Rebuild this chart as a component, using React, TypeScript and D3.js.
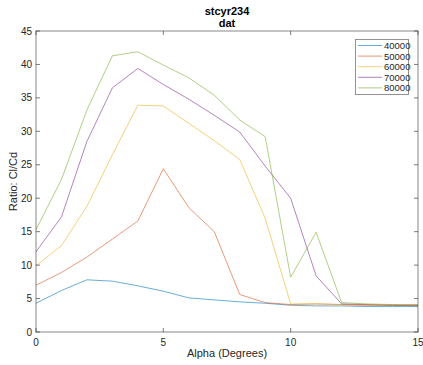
import React from "react";
import * as d3 from "d3";

const alpha = [0, 1, 2, 3, 4, 5, 6, 7, 8, 9, 10, 11, 12, 13, 14, 15];
const seriesNames = ["40000", "50000", "60000", "70000", "80000"];
const s40000 = [4.3, 6.2, 7.8, 7.6, 6.9, 6.1, 5.1, 4.8, 4.5, 4.3, 4.0, 3.9, 3.9, 3.8, 3.8, 3.8];
const s50000 = [7.0, 8.9, 11.2, 13.9, 16.6, 24.4, 18.6, 15.0, 5.6, 4.4, 4.1, 4.2, 4.1, 4.0, 4.0, 3.9];
const s60000 = [9.9, 12.9, 18.8, 26.5, 33.9, 33.8, 31.2, 28.6, 25.8, 17.0, 4.2, 4.2, 4.1, 4.0, 4.0, 4.0];
const s70000 = [12.0, 17.2, 28.5, 36.5, 39.4, 37.0, 34.8, 32.4, 29.9, 24.8, 20.0, 8.4, 4.2, 4.1, 4.0, 4.0];
const s80000 = [15.3, 22.8, 33.2, 41.3, 41.9, 39.9, 38.0, 35.4, 31.7, 29.2, 8.2, 14.9, 4.4, 4.2, 4.1, 4.1];
const seriesValues = [s40000, s50000, s60000, s70000, s80000];
const colors = ["#0072BD", "#D95319", "#EDB120", "#7E2F8E", "#77AC30"];
const xTicks = [0, 5, 10, 15];
const yTicks = [0, 5, 10, 15, 20, 25, 30, 35, 40, 45];

export default function App() {
  const width = 423;
  const height = 365;
  const left = 36, right = 418, top = 31, bottom = 332;

  const x = d3.scaleLinear().domain([0, 15]).range([left, right]);
  const y = d3.scaleLinear().domain([0, 45]).range([bottom, top]);
  const line = d3.line<number>().x((_, i) => x(alpha[i])).y(d => y(d));

  const font = "'Liberation Sans', Arial, Helvetica, sans-serif";
  const axisColor = "#262626";

  return (
    <svg
      width={width}
      height={height}
      style={{ position: "absolute", left: 0, top: 0, background: "#fff" }}
      fontFamily={font}
    >
      <rect x={0} y={0} width={width} height={height} fill="#fff" />
      {/* series */}
      <g>
        {seriesValues.map((vals, k) => (
          <path key={k} d={line(vals) || ""} fill="none" stroke={colors[k]}
            strokeWidth={0.9} strokeOpacity={0.65} />
        ))}
      </g>
      {/* box */}
      <rect x={left} y={top} width={right - left} height={bottom - top}
        fill="none" stroke={axisColor} strokeOpacity={0.55} strokeWidth={1} />
      {/* x ticks */}
      {xTicks.map(t => (
        <g key={"x" + t}>
          <line x1={x(t)} x2={x(t)} y1={bottom} y2={bottom - 4} stroke={axisColor} strokeOpacity={0.6} />
          <line x1={x(t)} x2={x(t)} y1={top} y2={top + 4} stroke={axisColor} strokeOpacity={0.6} />
          <text x={x(t)} y={bottom + 14} fontSize={10} fill={axisColor} textAnchor="middle">{t}</text>
        </g>
      ))}
      {/* y ticks */}
      {yTicks.map(t => (
        <g key={"y" + t}>
          <line x1={left} x2={left + 4} y1={y(t)} y2={y(t)} stroke={axisColor} strokeOpacity={0.6} />
          <line x1={right} x2={right - 4} y1={y(t)} y2={y(t)} stroke={axisColor} strokeOpacity={0.6} />
          <text x={left - 4} y={y(t) + 3.5} fontSize={10} fill={axisColor} textAnchor="end">{t}</text>
        </g>
      ))}
      {/* titles */}
      <text x={(left + right) / 2} y={15} fontSize={11} fontWeight="bold" fill="#000" textAnchor="middle">stcyr234</text>
      <text x={(left + right) / 2} y={27} fontSize={11} fontWeight="bold" fill="#000" textAnchor="middle">dat</text>
      <text x={(left + right) / 2} y={357} fontSize={11} fill={axisColor} textAnchor="middle">Alpha (Degrees)</text>
      <text transform={`translate(17,${(top + bottom) / 2}) rotate(-90)`} fontSize={11} fill={axisColor} textAnchor="middle">Ratio: Cl/Cd</text>
      {/* legend */}
      <g>
        <rect x={355.5} y={39.5} width={53} height={55} fill="#fff" stroke={axisColor} strokeOpacity={0.5} />
        {seriesNames.map((n, k) => {
          const ly = 45.5 + k * 10.6;
          return (
            <g key={n}>
              <line x1={358} x2={382} y1={ly} y2={ly} stroke={colors[k]} strokeOpacity={0.6} />
              <text x={384} y={ly + 3.5} fontSize={9.5} fill={axisColor}>{n}</text>
            </g>
          );
        })}
      </g>
    </svg>
  );
}
